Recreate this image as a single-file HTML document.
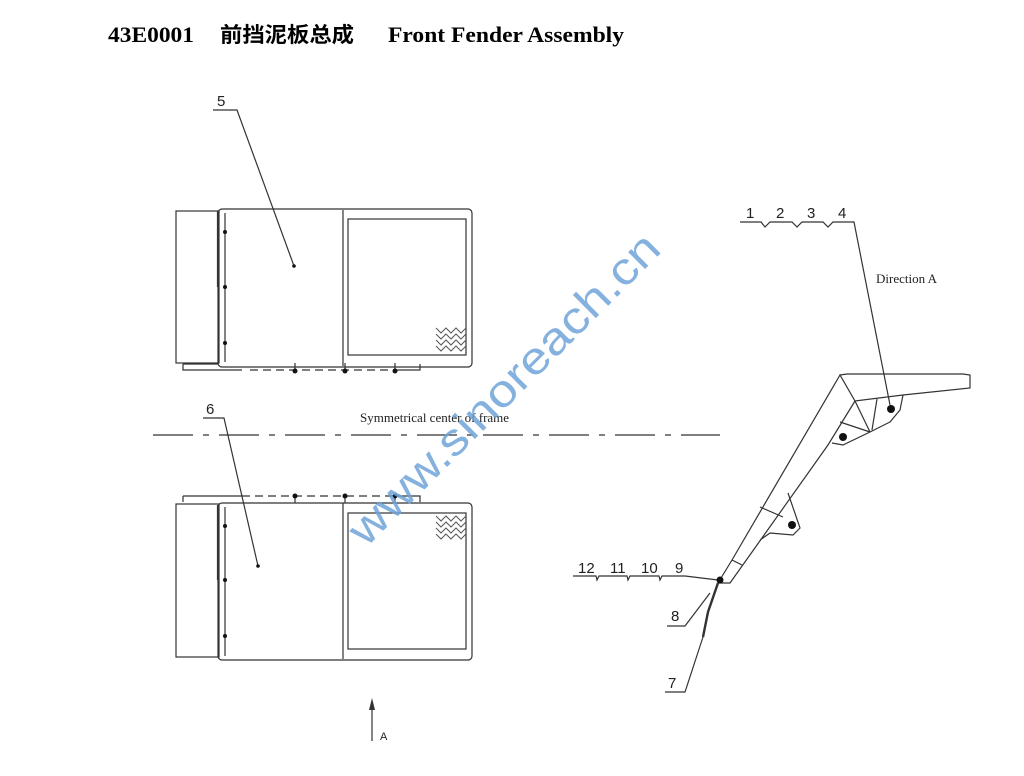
<!DOCTYPE html>
<html><head><meta charset="utf-8"><style>
html,body{margin:0;padding:0;background:#fff;width:1024px;height:776px;overflow:hidden}
svg{display:block}
</style></head><body>
<svg width="1024" height="776" viewBox="0 0 1024 776" xmlns="http://www.w3.org/2000/svg">
<text x="108" y="42" textLength="86" lengthAdjust="spacingAndGlyphs" font-family="'Liberation Serif',serif" font-weight="bold" font-size="22" fill="#000">43E0001</text>
<text x="220" y="42" textLength="134" lengthAdjust="spacingAndGlyphs" font-family="'Noto Sans CJK SC',sans-serif" font-weight="bold" font-size="21" fill="#000">前挡泥板总成</text>
<text x="388" y="42" textLength="236" lengthAdjust="spacingAndGlyphs" font-family="'Liberation Serif',serif" font-weight="bold" font-size="22" fill="#000">Front Fender Assembly</text>

<g fill="none" stroke="#333" stroke-width="1.2">
<rect x="176" y="211" width="43" height="152"/>
<rect x="218" y="209" width="254" height="158" rx="4"/>
<line x1="218" y1="211" x2="218" y2="287" stroke-width="2.2"/>
<line x1="225" y1="213" x2="225" y2="362"/>
<line x1="343" y1="210" x2="343" y2="366"/>
<rect x="348" y="219" width="118" height="136"/>
<path d="M183 364 V370 H242 M183 364 H218 M420 364 V370 H395"/>
<line x1="250" y1="370" x2="395" y2="370" stroke-dasharray="8,5"/>
<path d="M295 363 V372 M345 363 V372 M395 363 V372"/>
<rect x="176" y="504" width="43" height="153"/>
<rect x="218" y="503" width="254" height="157" rx="4"/>
<line x1="218" y1="505" x2="218" y2="580" stroke-width="2.2"/>
<line x1="225" y1="507" x2="225" y2="656"/>
<line x1="343" y1="503" x2="343" y2="659"/>
<rect x="348" y="513" width="118" height="136"/>
<path d="M183 496 H242 M183 496 V502 M395 496 H420 V502"/>
<line x1="242" y1="496" x2="395" y2="496" stroke-dasharray="8,5"/>
<path d="M295 494 V503 M345 494 V503 M395 494 V503"/>
<line x1="153" y1="435" x2="720" y2="435" stroke-dasharray="40,10,6,10"/>
<path d="M213 110 H237 L294 266"/>
<path d="M203 418 H224 L258 566"/>
<path d="M740 222 H761 L765 227 L770 222 H792 L797 227 L802 222 H823 L828 227 L833 222 H854 L890 405"/>
<path d="M840 375 L847 374 H963 L970 375 V388 L903 395 L855 401 Z"/>
<path d="M840 375 L732 560 L718 583 H730 L828 445 L855 401"/>
<path d="M903 395 L900 410 L890 422 L870 432 L843 445 L832 443"/>
<path d="M855 401 L870 432 M877 399 L872 430 M840 422 L870 432"/>
<path d="M788 493 L800 528 L793 535 L770 533 L760 540 M760 507 L783 517"/>
<path d="M732 560 L742 565"/>
<path d="M718 583 L708 612 L703 637" stroke-width="2.4"/>
<path d="M573 576 H596 L597 580 L599 576 H627 L628 580 L630 576 H659 L660 580 L662 576 H685 L718 580"/>
<path d="M667 626 H685 L710 593"/>
<path d="M665 692 H685 L703 637"/>
<line x1="372" y1="741" x2="372" y2="702"/>
</g>
<polygon points="372,698 369,710 375,710" fill="#333"/>
<g fill="#111">
<circle cx="294" cy="266" r="1.8"/><circle cx="258" cy="566" r="1.8"/>
<circle cx="225" cy="232" r="2"/><circle cx="225" cy="287" r="2"/><circle cx="225" cy="343" r="2"/>
<circle cx="225" cy="526" r="2"/><circle cx="225" cy="580" r="2"/><circle cx="225" cy="636" r="2"/>
<circle cx="295" cy="371" r="2.5"/><circle cx="345" cy="371" r="2.5"/><circle cx="395" cy="371" r="2.5"/>
<circle cx="295" cy="496" r="2.5"/><circle cx="345" cy="496" r="2.5"/><circle cx="395" cy="496" r="2.5"/>
<circle cx="891" cy="409" r="4"/><circle cx="843" cy="437" r="4"/><circle cx="792" cy="525" r="4"/>
<circle cx="720" cy="580" r="3.5"/>
</g>
<g fill="none" stroke="#555" stroke-width="1">
<path d="M436 328 l5 5 l5 -5 l5 5 l5 -5 l5 5 l5 -5 M436 334 l5 5 l5 -5 l5 5 l5 -5 l5 5 l5 -5 M436 340 l5 5 l5 -5 l5 5 l5 -5 l5 5 l5 -5 M436 346 l5 5 l5 -5 l5 5 l5 -5 l5 5 l5 -5"/>
<path d="M436 516 l5 5 l5 -5 l5 5 l5 -5 l5 5 l5 -5 M436 522 l5 5 l5 -5 l5 5 l5 -5 l5 5 l5 -5 M436 528 l5 5 l5 -5 l5 5 l5 -5 l5 5 l5 -5 M436 534 l5 5 l5 -5 l5 5 l5 -5 l5 5 l5 -5"/>
</g>
<g font-family="'Liberation Sans Narrow','Liberation Sans',sans-serif" font-size="15" fill="#222">
<text x="217" y="106">5</text><text x="206" y="414">6</text>
<text x="746" y="218">1</text><text x="776" y="218">2</text><text x="807" y="218">3</text><text x="838" y="218">4</text>
<text x="578" y="573">12</text><text x="610" y="573">11</text><text x="641" y="573">10</text><text x="675" y="573">9</text>
<text x="671" y="621">8</text><text x="668" y="688">7</text>
</g>
<text x="380" y="740" font-family="'Liberation Sans',sans-serif" font-size="11" fill="#222">A</text>
<text x="360" y="422" font-family="'Liberation Serif',serif" font-size="13" fill="#222">Symmetrical center of frame</text>
<text x="876" y="283" font-family="'Liberation Serif',serif" font-size="13" fill="#222">Direction A</text>
<text x="0" y="0" transform="translate(366,548) rotate(-45)" textLength="420" lengthAdjust="spacingAndGlyphs" font-family="'Liberation Sans',sans-serif" font-size="45" fill="#6fa3d8" fill-opacity="0.85">www.sinoreach.cn</text>
</svg>
</body></html>
